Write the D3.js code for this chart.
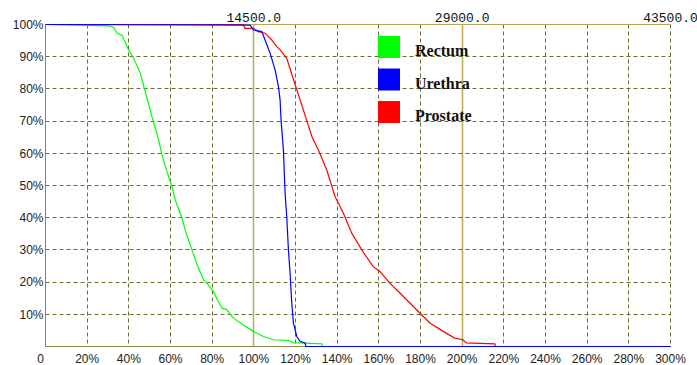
<!DOCTYPE html>
<html>
<head>
<meta charset="utf-8">
<script src="https://cdn.jsdelivr.net/npm/d3@7"></script>
<style>
  body { margin: 0; background: #fff; }
  svg { display: block; }
</style>
</head>
<body>
<div id="chart"></div>
<script>
// DVH curves: x = dose (% of prescription), y = volume (%)
const rectumX = [0, 30.3, 32.7, 34.3, 36.7, 39.9, 42.3, 45.5, 47.9, 51.1, 54.3, 55.9, 58.3, 60.7, 62.3, 65.5, 67.6, 70.3, 73, 75.9, 77.5, 80.6, 82.5, 84.7, 87.1, 90.2, 95, 99.8, 104.6, 109.4, 116.6, 119, 132.6, 133, 300];
const rectumY = [100, 99.6, 99.1, 97.3, 96.7, 92.1, 89.5, 84.9, 79.1, 71.4, 64.2, 59.5, 54.3, 49.7, 45.5, 39.9, 35, 30, 25, 20.7, 19.7, 17.1, 14.5, 11.9, 11.4, 8.8, 6.7, 4.7, 3.1, 2.1, 1.9, 1.2, 0.8, 0, 0];

const urethraX = [0, 98.2, 99.8, 103.8, 105.4, 107.8, 110.2, 111.8, 112.6, 113.1, 114.2, 115.0, 115.8, 116.6, 117.4, 118.2, 119.0, 120.6, 122.2, 124.6, 125, 300];
const urethraY = [100, 99.8, 98.3, 97.8, 95.2, 91.1, 85.9, 80.7, 76.6, 70, 61, 47.6, 40.3, 30, 22.8, 13.5, 7.3, 3.1, 1.6, 1.1, 0, 0];

const prostateX = [0, 94.8, 95.8, 99.8, 102.2, 105.4, 108.6, 111, 112.6, 115.8, 118, 120.5, 123, 125.5, 128, 131, 135, 139, 143, 147, 151.8, 157.3, 160.5, 165.3, 170.1, 174.9, 179.7, 184.5, 190.9, 196.4, 200.4, 202, 215.7, 216, 300];
const prostateY = [100, 100, 98.8, 98.8, 97.8, 97.3, 95.2, 93.1, 92.1, 89.5, 85, 80, 75, 70, 65, 61, 54.8, 46.6, 41.4, 35.2, 30, 24.8, 23.3, 19.7, 16.6, 13.5, 10.4, 7.3, 4.7, 2.6, 2.1, 1.1, 0.8, 0, 0];

const xTicks = d3.range(0, 301, 20);
const yTicks = d3.range(10, 101, 10);
const topTicks = [100, 200, 300];
const topLabels = ['14500.0', '29000.0', '43500.0'];

const series = [
  { name: 'Rectum', color: '#00ff00', xs: rectumX, ys: rectumY },
  { name: 'Urethra', color: '#0000ff', xs: urethraX, ys: urethraY },
  { name: 'Prostate', color: '#ff0000', xs: prostateX, ys: prostateY }
];

const W = 697, H = 365;
const margin = { left: 45.5, top: 24.5 };
const width = 625, height = 322;

const svg = d3.select('#chart').append('svg')
  .attr('width', W).attr('height', H);

const g = svg.append('g').attr('transform', `translate(${margin.left},${margin.top})`);

const x = d3.scaleLinear().domain([0, 300]).range([0, width]);
const y = d3.scaleLinear().domain([0, 100]).range([height, 0]);
const rx = v => Math.round(x(v));
const ry = v => Math.round(y(v));

const dashCol = '#6e6b2e';
const solidCol = '#b3ab55';
const axisCol = '#8c874a';

// vertical grid
g.selectAll('.vgrid')
  .data(xTicks.filter(d => d > 0))
  .enter().append('line')
  .attr('x1', d => rx(d)).attr('x2', d => rx(d))
  .attr('y1', 0).attr('y2', height)
  .attr('stroke', d => (d === 100 || d === 200) ? solidCol : dashCol)
  .attr('stroke-width', d => (d === 100 || d === 200) ? 1.5 : 1)
  .attr('stroke-dasharray', d => (d === 100 || d === 200) ? null : '4,3');

// horizontal grid
g.selectAll('.hgrid')
  .data(yTicks.filter(d => d < 100))
  .enter().append('line')
  .attr('x1', 0).attr('x2', width)
  .attr('y1', d => ry(d)).attr('y2', d => ry(d))
  .attr('stroke', dashCol)
  .attr('stroke-dasharray', '4,3');

// frame: top, left, bottom solid
g.append('line').attr('x1', 0).attr('x2', width).attr('y1', 0).attr('y2', 0).attr('stroke', solidCol);
g.append('line').attr('x1', 0).attr('x2', 0).attr('y1', 0).attr('y2', height).attr('stroke', axisCol);
g.append('line').attr('x1', 0).attr('x2', width).attr('y1', height).attr('y2', height).attr('stroke', axisCol);

// curves
const line = d3.line().x(d => x(d[0])).y(d => y(d[1]));
[series[0], series[2], series[1]].forEach(s => {
  g.append('path')
    .datum(s.xs.map((v, i) => [v, s.ys[i]]))
    .attr('d', line)
    .attr('fill', 'none')
    .attr('stroke', s.color)
    .attr('stroke-width', 1.2);
});

// y labels
g.selectAll('.ylab')
  .data(yTicks)
  .enter().append('text')
  .attr('x', -2)
  .attr('y', d => y(d))
  .attr('dy', '0.35em')
  .attr('text-anchor', 'end')
  .style('font-family', "'Liberation Sans', Arial, sans-serif")
  .style('font-size', '12px')
  .style('fill', '#222')
  .text(d => d + '%');

// x labels
g.selectAll('.xlab')
  .data(xTicks)
  .enter().append('text')
  .attr('x', d => d === 0 ? -5 : x(d))
  .attr('y', height + 16)
  .attr('text-anchor', 'middle')
  .style('font-family', "'Liberation Sans', Arial, sans-serif")
  .style('font-size', '12px')
  .style('fill', '#222')
  .text(d => d === 0 ? '0' : d + '%');

// top labels
g.selectAll('.toplab')
  .data(topTicks)
  .enter().append('text')
  .attr('x', d => x(d))
  .attr('y', -3)
  .attr('text-anchor', 'middle')
  .style('font-family', "'Liberation Mono', 'DejaVu Sans Mono', monospace")
  .style('font-size', '13px')
  .style('fill', '#111')
  .text((d, i) => topLabels[i]);

// legend
const legend = svg.append('g').attr('transform', 'translate(378,36)');
series.forEach((s, i) => {
  const row = legend.append('g').attr('transform', `translate(0,${i * 32.5})`);
  row.append('rect')
    .attr('width', 22).attr('height', 22)
    .attr('fill', s.color);
  row.append('text')
    .attr('x', 37).attr('y', 20)
    .style('font-family', "'Liberation Serif', 'Times New Roman', serif")
    .style('font-weight', 'bold')
    .style('font-size', '16px')
    .style('fill', '#111')
    .text(s.name);
});
</script>
</body>
</html>
